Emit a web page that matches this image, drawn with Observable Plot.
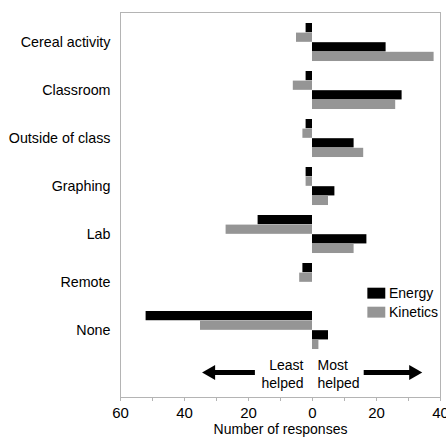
<!DOCTYPE html>
<html>
<head>
<meta charset="utf-8">
<script src="https://cdn.jsdelivr.net/npm/d3@7"></script>
<script src="https://cdn.jsdelivr.net/npm/@observablehq/plot@0.6"></script>
<style>
  html, body { margin: 0; padding: 0; background: #fff; }
  svg { font-family: "Liberation Sans", Arial, sans-serif; }
</style>
</head>
<body>
<div id="chart"></div>
<script>
// ---- data ----
const categories = ["Cereal activity", "Classroom", "Outside of class", "Graphing", "Lab", "Remote", "None"];
const energyLeast   = [2, 2, 2, 2, 17, 3, 52];
const kineticsLeast = [5, 6, 3, 2, 27, 4, 35];
const energyMost    = [23, 28, 13, 7, 17, 0, 5];
const kineticsMost  = [38, 26, 16, 5, 13, 0, 2];
const seriesNames = ["Energy", "Kinetics"];
const seriesColors = ["#000000", "#959595"];
const xTicks = [-60, -50, -40, -30, -20, -10, 0, 10, 20, 30, 40];
const arrowLabels = ["Least\nhelped", "Most\nhelped"];
const arrowTail = [-18, 16];
const arrowTip = [-34.5, 34.3];

// ---- table ----
const rows = [...categories, "arrows"];
const table = [];
categories.forEach((c, i) => {
  table.push({cat: c, series: "Energy", value: -energyLeast[i], slot: 0});
  table.push({cat: c, series: "Kinetics", value: -kineticsLeast[i], slot: 1});
  table.push({cat: c, series: "Energy", value: energyMost[i], slot: 2});
  table.push({cat: c, series: "Kinetics", value: kineticsMost[i], slot: 3});
});
const arrows = arrowTail.map((t, i) => ({
  tail: t, tip: arrowTip[i], dir: Math.sign(arrowTip[i] - t),
  shaftEnd: arrowTip[i] - Math.sign(arrowTip[i] - t) * 3, row: "arrows"
}));

const bandH = 48.375, off = 5, slotH = 9.6;

const marks = [
  Plot.frame({stroke: "#b4b4b4"}),
];
for (let k = 0; k < 4; k++) {
  marks.push(Plot.barX(table.filter(d => d.slot === k && d.value !== 0), {
    x1: d => 0, x2: "value", y: "cat",
    fill: "series",
    insetTop: off + slotH * k,
    insetBottom: bandH - (off + slotH * (k + 1))
  }));
}
// legend (inside plot)
seriesNames.forEach((s, i) => {
  marks.push(Plot.barX([s], {
    x1: d => 17.3, x2: d => 22.9, y: d => "Remote", fill: d => d,
    insetTop: 29.7 + 19 * i, insetBottom: bandH - (41 + 19 * i)
  }));
  marks.push(Plot.text([s], {
    x: d => 23.9, y: d => "Remote", text: d => d, textAnchor: "start",
    dy: 11 + 19 * i, fontSize: 14, fill: "#000"
  }));
});
// arrows
marks.push(Plot.link(arrows, {
  x1: "tail", x2: "shaftEnd", y1: "row", y2: "row", stroke: "#000", strokeWidth: 5, dy: -6
}));
marks.push(Plot.dot(arrows.filter(d => d.dir < 0), {
  x: "tip", y: "row", symbol: "triangle", r: 5.6, fill: "#000",
  rotate: -90, dx: 8.7, dy: -6
}));
marks.push(Plot.dot(arrows.filter(d => d.dir > 0), {
  x: "tip", y: "row", symbol: "triangle", r: 5.6, fill: "#000",
  rotate: 90, dx: -8.7, dy: -6
}));
marks.push(Plot.text([arrowLabels[0]], {
  x: d => 0, y: d => "arrows", text: d => d, textAnchor: "end", dx: -9, dy: -5,
  fontSize: 14, lineHeight: 1.27, fill: "#000"
}));
marks.push(Plot.text([arrowLabels[1]], {
  x: d => 0, y: d => "arrows", text: d => d, textAnchor: "start", dx: 5, dy: -5,
  fontSize: 14, lineHeight: 1.27, fill: "#000"
}));
// axes
marks.push(Plot.axisY({
  tickSize: 0, tickPadding: 10, fontSize: 14.3, fill: "#000",
  tickFormat: d => d === "arrows" ? "" : d, label: null
}));
marks.push(Plot.axisX({
  ticks: xTicks, tickSize: 4, tickPadding: 6, fontSize: 15, fill: "#000", stroke: "#b4b4b4",
  tickFormat: d => d % 20 === 0 ? String(Math.abs(d)) : "", label: null
}));
marks.push(Plot.text(["Number of responses"], {
  frameAnchor: "bottom", text: d => d, dy: 36, fontSize: 14, fill: "#000"
}));

const chart = Plot.plot({
  width: 446,
  height: 440,
  marginLeft: 120,
  marginRight: 6,
  marginTop: 12,
  marginBottom: 43,
  x: {domain: [-60, 40], range: [120, 440]},
  y: {domain: rows, range: [16, 403], padding: 0},
  color: {domain: seriesNames, range: seriesColors},
  style: {fontFamily: "'Liberation Sans', Arial, sans-serif", background: "#fff", overflow: "visible"},
  marks
});
document.getElementById("chart").appendChild(chart);
</script>
</body>
</html>
